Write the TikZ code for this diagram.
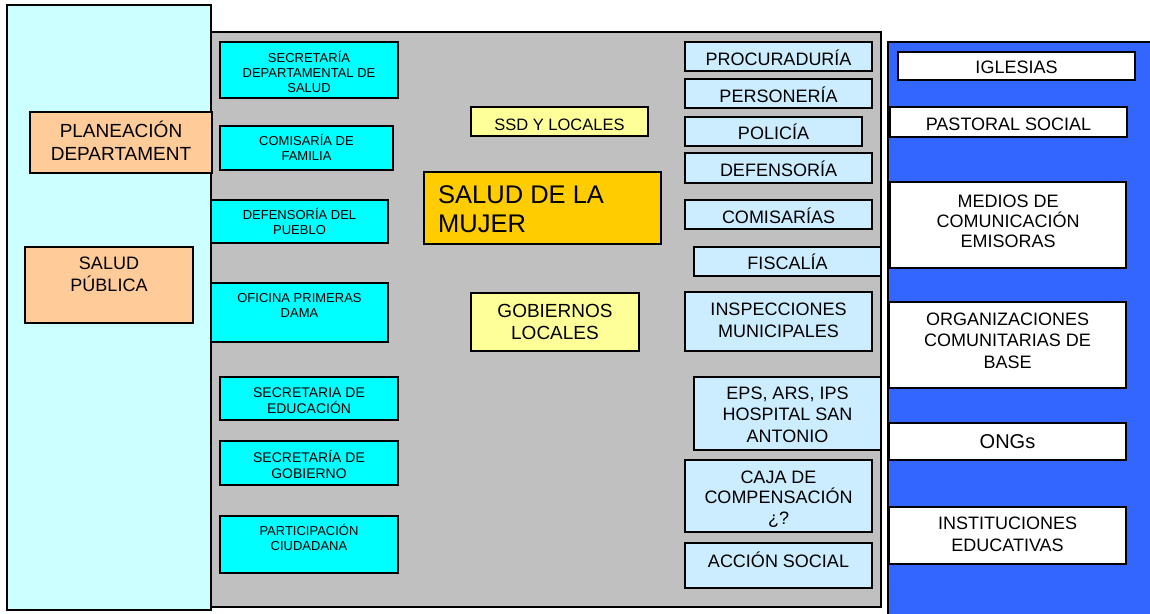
\documentclass[tikz,border=0pt]{standalone}
\usepackage{fontspec}
\setmainfont{Liberation Sans}
\definecolor{lcyan}{HTML}{CCFFFF}
\definecolor{grayp}{HTML}{C0C0C0}
\definecolor{bluep}{HTML}{3366FF}
\definecolor{cyanb}{HTML}{00FFFF}
\definecolor{salmon}{HTML}{FFCC99}
\definecolor{lblue}{HTML}{CCECFF}
\definecolor{yell}{HTML}{FFFF99}
\definecolor{orng}{HTML}{FFCC00}
\tikzset{
  panel/.style={draw=black, line width=1.5pt},
  box/.style={draw=black, line width=1.5pt},
  lbl/.style={anchor=base, align=center, inner sep=0pt},
  fa/.style={font=\fontsize{13}{15}\selectfont},
  fb/.style={font=\fontsize{14}{16}\selectfont},
  fc/.style={font=\fontsize{18}{22}\selectfont},
  fd/.style={font=\fontsize{18}{21.5}\selectfont},
  fe/.style={font=\fontsize{19}{23}\selectfont},
  ff/.style={font=\fontsize{25.5}{29}\selectfont},
}
\begin{document}
\begin{tikzpicture}[x=1pt,y=-1pt]
\useasboundingbox (0,0) rectangle (1150,613);
% panels
\path[panel, fill=grayp] (211,32) rectangle (881,607);
\path[panel, fill=lcyan] (7,5) rectangle (211,610);
\path[panel, fill=bluep] (888,42) rectangle (1153,616);
% left salmon boxes
\path[box, fill=salmon] (30,112) rectangle (212,173);
\node[lbl, fe] (plan) at (121,160) {PLANEACIÓN\\DEPARTAMENT};
\path[box, fill=salmon] (25,247) rectangle (193,323);
\node[lbl, font=\fontsize{18}{22}\selectfont] (sp) at (109,291) {SALUD\\PÚBLICA};
% cyan boxes
\path[box, fill=cyanb] (220,42) rectangle (398,98);
\node[lbl, fa] (ssd) at (309,92) {SECRETARÍA\\DEPARTAMENTAL DE\\SALUD};
\path[box, fill=cyanb] (220,126) rectangle (393,170);
\node[lbl, fa] (cf) at (306.5,160) {COMISARÍA DE\\FAMILIA};
\path[box, fill=cyanb] (211,200) rectangle (388,243);
\node[lbl, fa] (dp) at (299.5,234) {DEFENSORÍA DEL\\PUEBLO};
\path[box, fill=cyanb] (211,283) rectangle (388,342);
\node[lbl, fa] (opd) at (299.5,317) {OFICINA PRIMERAS\\DAMA};
\path[box, fill=cyanb] (220,377) rectangle (398,420);
\node[lbl, fb] (se) at (309,413) {SECRETARIA DE\\EDUCACIÓN};
\path[box, fill=cyanb] (220,441) rectangle (398,485);
\node[lbl, fb] (sg) at (309,478) {SECRETARÍA DE\\GOBIERNO};
\path[box, fill=cyanb] (220,516) rectangle (398,573);
\node[lbl, fa] (pc) at (309,550) {PARTICIPACIÓN\\CIUDADANA};
% center boxes
\path[box, fill=yell] (471,107) rectangle (648,136);
\node[lbl, font=\fontsize{16.5}{20}\selectfont] (sl) at (559.5,130) {SSD Y LOCALES};
\path[box, fill=orng] (424,172) rectangle (661,244);
\node[lbl, ff, align=left, anchor=base west] (sm) at (438,232) {SALUD DE LA\\MUJER};
\path[box, fill=yell] (471,293) rectangle (639,351);
\node[lbl, font=\fontsize{19}{22}\selectfont] (gl) at (555,339) {GOBIERNOS\\LOCALES};
% right light-blue boxes
\path[box, fill=lblue] (685,42) rectangle (872,71);
\node[lbl, fc] (pr) at (778.5,65) {PROCURADURÍA};
\path[box, fill=lblue] (685,79) rectangle (872,108);
\node[lbl, fc] (pe) at (778.5,102) {PERSONERÍA};
\path[box, fill=lblue] (685,117) rectangle (862,146);
\node[lbl, fc] (po) at (773.5,139) {POLICÍA};
\path[box, fill=lblue] (685,153) rectangle (872,183);
\node[lbl, fc] (de) at (778.5,176) {DEFENSORÍA};
\path[box, fill=lblue] (685,200) rectangle (872,229);
\node[lbl, fc] (co) at (778.5,223) {COMISARÍAS};
\path[box, fill=lblue] (694,247) rectangle (881,276);
\node[lbl, fc] (fi) at (787.5,269) {FISCALÍA};
\path[box, fill=lblue] (685,292) rectangle (872,351);
\node[lbl, fc] (im) at (778.5,337) {INSPECCIONES\\MUNICIPALES};
\path[box, fill=lblue] (694,377) rectangle (881,450);
\node[lbl, font=\fontsize{18}{21.5}\selectfont] (eps) at (787.5,442) {EPS, ARS, IPS\\HOSPITAL SAN\\ANTONIO};
\path[box, fill=lblue] (685,460) rectangle (872,532);
\node[lbl, font=\fontsize{18}{20.5}\selectfont] (cc) at (778.5,524) {CAJA DE\\COMPENSACIÓN\\¿?};
\path[box, fill=lblue] (685,543) rectangle (872,588);
\node[lbl, fc] (as) at (778.5,567) {ACCIÓN SOCIAL};
% white boxes
\path[box, fill=white] (898,52) rectangle (1135,80);
\node[lbl, fd] (ig) at (1016.5,73) {IGLESIAS};
\path[box, fill=white] (890,107) rectangle (1127,137);
\node[lbl, fd] (ps) at (1008.5,130) {PASTORAL SOCIAL};
\path[box, fill=white] (890,182) rectangle (1126,268);
\node[lbl, font=\fontsize{18}{20}\selectfont] (mc) at (1008,247) {MEDIOS DE\\COMUNICACIÓN\\EMISORAS};
\path[box, fill=white] (889,302) rectangle (1126,388);
\node[lbl, fd] (oc) at (1007.5,368) {ORGANIZACIONES\\COMUNITARIAS DE\\BASE};
\path[box, fill=white] (889,423) rectangle (1126,460);
\node[lbl, font=\fontsize{20}{24}\selectfont] (ong) at (1007.5,448) {ONGs};
\path[box, fill=white] (889,507) rectangle (1126,564);
\node[lbl, fd] (ie) at (1007.5,551) {INSTITUCIONES\\EDUCATIVAS};
\end{tikzpicture}
\end{document}
